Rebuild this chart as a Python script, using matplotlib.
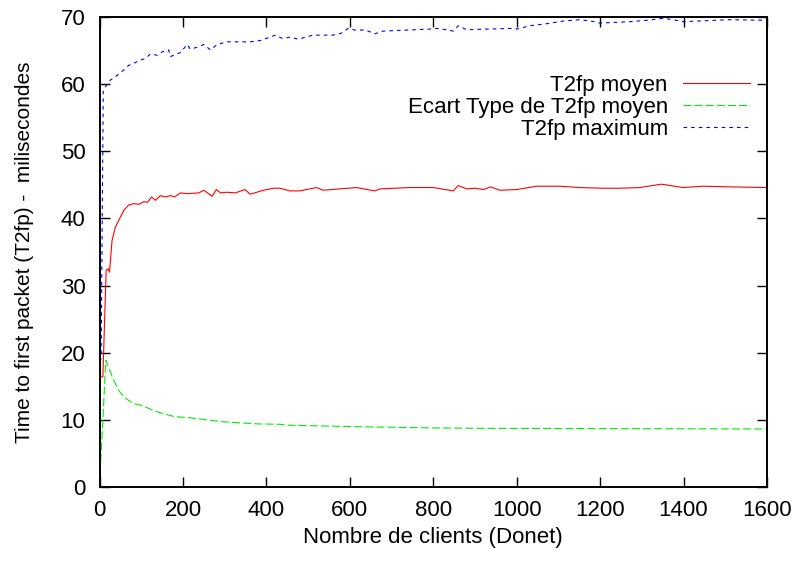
"""Gnuplot-style T2fp chart: mean, std dev and max time-to-first-packet vs. clients."""

import matplotlib
matplotlib.use("Agg")
import matplotlib.pyplot as plt

plt.rcParams["font.family"] = ["Liberation Sans", "DejaVu Sans"]
plt.rcParams["lines.scale_dashes"] = False

# Values
mean_x = [0, 8, 16, 21, 24, 30, 38, 50, 58, 70, 82, 94, 106, 115, 125, 134,
          146, 158, 170, 180, 194, 210, 238, 250, 270, 280, 290, 305, 325,
          349, 361, 393, 418, 432, 456, 480, 520, 536, 616, 660, 672, 744,
          800, 848, 860, 880, 900, 920, 938, 960, 1000, 1048, 1103, 1151,
          1207, 1247, 1295, 1347, 1399, 1447, 1511, 1600]
mean_y = [16.4, 16.4, 32.3, 32.5, 32.0, 36.7, 38.7, 40.2, 41.2, 42.0, 42.2,
          42.1, 42.5, 42.4, 43.2, 42.7, 43.4, 43.2, 43.4, 43.2, 43.8, 43.7,
          43.8, 44.2, 43.3, 44.3, 43.8, 43.9, 43.8, 44.3, 43.6, 44.2, 44.5,
          44.5, 44.1, 44.1, 44.6, 44.2, 44.6, 44.1, 44.4, 44.6, 44.6, 44.1,
          44.9, 44.4, 44.5, 44.3, 44.7, 44.2, 44.3, 44.8, 44.8, 44.6, 44.5,
          44.5, 44.6, 45.1, 44.6, 44.8, 44.7, 44.6]

std_x = [0, 8, 15, 25, 34, 46, 58, 82, 98, 138, 178, 218, 258, 298, 378,
         432, 457, 600, 800, 911, 1200, 1600]
std_y = [0.5, 9.9, 18.9, 17.3, 15.9, 14.4, 13.4, 12.4, 12.2, 11.2, 10.5,
         10.3, 10.0, 9.7, 9.4, 9.34, 9.2, 9.0, 8.8, 8.74, 8.7, 8.64]

max_x = [0, 4, 9, 14, 26, 42, 58, 70, 82, 98, 110, 122, 138, 150, 166, 170,
         194, 210, 218, 234, 250, 266, 282, 305, 329, 361, 386, 422, 438,
         457, 476, 512, 560, 580, 596, 616, 636, 660, 680, 792, 808, 832,
         848, 860, 880, 928, 992, 1000, 1032, 1072, 1112, 1151, 1187, 1199,
         1271, 1311, 1351, 1375, 1399, 1471, 1511, 1600]
max_y = [16.4, 20.0, 59.1, 59.6, 60.6, 61.3, 62.1, 62.8, 63.1, 63.6, 63.8,
         64.5, 64.3, 64.8, 65.1, 64.1, 64.7, 65.9, 65.2, 65.5, 65.9, 65.1,
         65.9, 66.3, 66.3, 66.3, 66.5, 67.3, 66.8, 67.0, 66.7, 67.3, 67.3,
         67.6, 68.3, 68.0, 68.1, 67.5, 67.9, 68.2, 68.3, 68.1, 67.9, 68.7,
         68.1, 68.2, 68.3, 68.2, 68.7, 69.0, 69.4, 69.6, 69.3, 69.1, 69.3,
         69.5, 69.8, 69.6, 69.3, 69.5, 69.6, 69.5]

x_ticks = [0, 200, 400, 600, 800, 1000, 1200, 1400, 1600]
y_ticks = [0, 10, 20, 30, 40, 50, 60, 70]

FS = 16

fig = plt.figure(figsize=(7.98, 5.61), dpi=100)
ax = fig.add_axes([99.5 / 798, 1 - 487 / 561, 667.5 / 798, 470 / 561])

lw = 0.8
ax.plot(mean_x, mean_y, "-", color="#ff0000", lw=lw, label="T2fp moyen")
ax.plot(std_x, std_y, color="#00ee00", lw=lw, dashes=(5.8, 2.2),
        label="Ecart Type de T2fp moyen")
ax.plot(max_x, max_y, color="#0000ff", lw=lw, dashes=(2.6, 2.9),
        label="T2fp maximum")

ax.set_xlim(0, 1600)
ax.set_ylim(0, 70)
ax.set_xticks(x_ticks)
ax.set_yticks(y_ticks)
ax.tick_params(direction="in", length=7, width=1, top=True, right=True,
               labelsize=FS)
ax.tick_params(axis="x", pad=9.5)
ax.tick_params(axis="y", pad=10)
for s in ax.spines.values():
    s.set_linewidth(1.4)

ax.set_xlabel("Nombre de clients (Donet)", fontsize=FS, labelpad=4)
ax.set_ylabel("Time to first packet (T2fp) -  milisecondes", fontsize=15,
              labelpad=19)

ax.legend(loc="upper right", bbox_to_anchor=(750 / 798, 1 - 75 / 561),
          bbox_transform=fig.transFigure, frameon=False, markerfirst=False,
          fontsize=FS, handlelength=3.0, handletextpad=0.7, labelspacing=0.05,
          borderpad=0, borderaxespad=0)

fig.savefig("out.png", dpi=100)
